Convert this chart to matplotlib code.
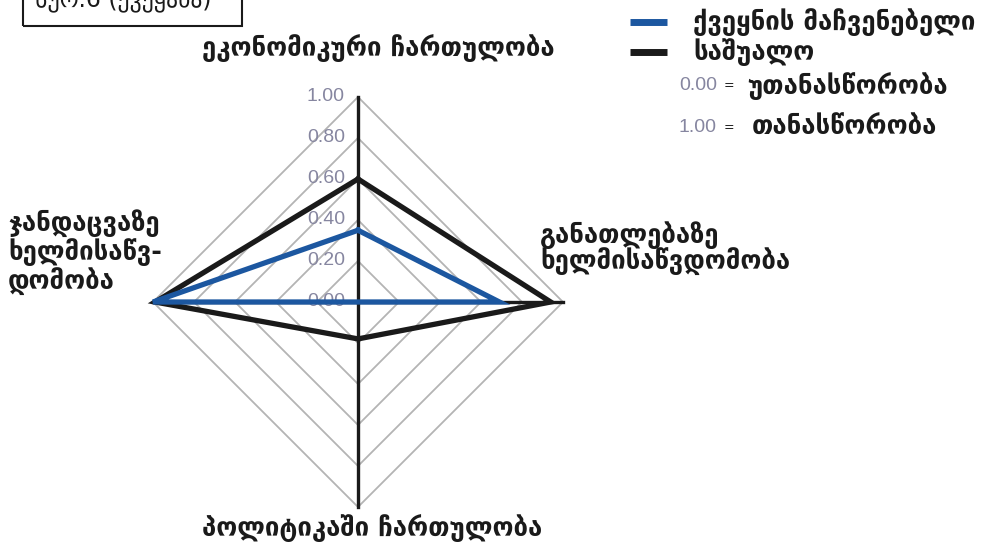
import numpy as np
import matplotlib
matplotlib.use("Agg")
import matplotlib.pyplot as plt
from matplotlib.patches import Rectangle

# ---- data ----
categories = ["ეკონომიკური ჩართულობა", "განათლებაზე\nხელმისაწვდომობა",
              "პოლიტიკაში ჩართულობა", "ჯანდაცვაზე\nხელმისაწვ-\nდომობა"]
country_values = [0.35, 0.69, 0.00, 1.00]
average_values = [0.60, 0.94, 0.18, 0.99]
grid_levels = [0.2, 0.4, 0.6, 0.8, 1.0]
tick_values = [0.0, 0.2, 0.4, 0.6, 0.8, 1.0]
tick_labels = ["0.00", "0.20", "0.40", "0.60", "0.80", "1.00"]
series_names = ["ქვეყნის მაჩვენებელი", "საშუალო"]
scale_labels = [("0.00", "უთანასწორობა"), ("1.00", "თანასწორობა")]
box_title = "სურ.6 (ქვეყანა)"

BLUE = "#1c57a0"
BLACK = "#1a1a1a"
GRID = "#b4b4b4"
TICKC = "#8686a0"
GEO = ["DejaVu Sans"]
NARROW = ["Liberation Sans Narrow", "Liberation Sans", "DejaVu Sans"]

W, H = 1003, 544
fig = plt.figure(figsize=(W / 100, H / 100), dpi=100)
ax = fig.add_axes([0, 0, 1, 1])
R = 205.0
cx, cy = 358.0, 302.0  # pixel centre (from top)
ax.set_xlim(-cx / R, (W - cx) / R)
ax.set_ylim(-(H - cy) / R, cy / R)
ax.axis("off")

# angles: top, right, bottom, left (clockwise)
angles = np.deg2rad([90, 0, 270, 180])

def to_xy(vals):
    v = np.asarray(vals, dtype=float)
    x = v * np.cos(angles)
    y = v * np.sin(angles)
    return np.append(x, x[0]), np.append(y, y[0])

# grid diamonds
for g in grid_levels:
    gx, gy = to_xy([g] * 4)
    ax.plot(gx, gy, color=GRID, lw=1.3, zorder=1, solid_joinstyle="miter")

# axes lines
for a in angles:
    ax.plot([0, np.cos(a)], [0, np.sin(a)], color=BLACK, lw=2.4, zorder=2)

# series
ax.plot(*to_xy(average_values), color=BLACK, lw=3.8, zorder=3, solid_joinstyle="miter")
ax.plot(*to_xy(country_values), color=BLUE, lw=3.8, zorder=4, solid_joinstyle="miter")

# tick labels
for v, lab in zip(tick_values, tick_labels):
    ax.text(-13 / R, v, lab, ha="right", va="center", fontsize=14,
            family=NARROW, color=TICKC, zorder=2.5)

def px(xp, yp):
    return (xp - cx) / R, (cy - yp) / R

# category labels
fs = 18.5
ax.text(*px(378, 48), categories[0], ha="center", va="center", fontsize=fs,
        family=GEO, weight="bold", color=BLACK)
ax.text(*px(540, 248), categories[1], ha="left", va="center", fontsize=fs,
        family=GEO, weight="bold", color=BLACK, linespacing=0.92)
ax.text(*px(372, 528), categories[2], ha="center", va="center", fontsize=fs,
        family=GEO, weight="bold", color=BLACK)
ax.text(*px(8, 252), categories[3], ha="left", va="center", fontsize=fs,
        family=GEO, weight="bold", color=BLACK, linespacing=1.05)

# legend
leg_y = [22, 52]
for name, col, yy in zip(series_names, [BLUE, BLACK], leg_y):
    x0, y0 = px(630, yy)
    x1, _ = px(667, yy)
    ax.plot([x0, x1], [y0, y0], color=col, lw=5, solid_capstyle="butt")
    ax.text(*px(693, yy), name, ha="left", va="center", fontsize=fs,
            family=GEO, weight="bold", color=BLACK)
for (num, word), yy, wx in zip(scale_labels, [86, 128], [747, 752]):
    ax.text(*px(717, yy), num, ha="right", va="center", fontsize=14,
            family=NARROW, color=TICKC)
    ax.text(*px(729, yy), "=", ha="center", va="center", fontsize=9,
            family=GEO, color=BLACK)
    ax.text(*px(wx, yy), word, ha="left", va="center", fontsize=fs,
            family=GEO, weight="bold", color=BLACK)

# title box (clipped at top)
bx0, by0 = px(23, 26)
bx1, by1 = px(242, -20)
ax.add_patch(Rectangle((bx0, by0), bx1 - bx0, by1 - by0, fill=False,
                       edgecolor=BLACK, lw=1.5, clip_on=False))
ax.text(*px(123, 6), box_title, ha="center", va="baseline", fontsize=17,
        family=GEO, color=BLACK)

fig.savefig("out.png", dpi=100)
